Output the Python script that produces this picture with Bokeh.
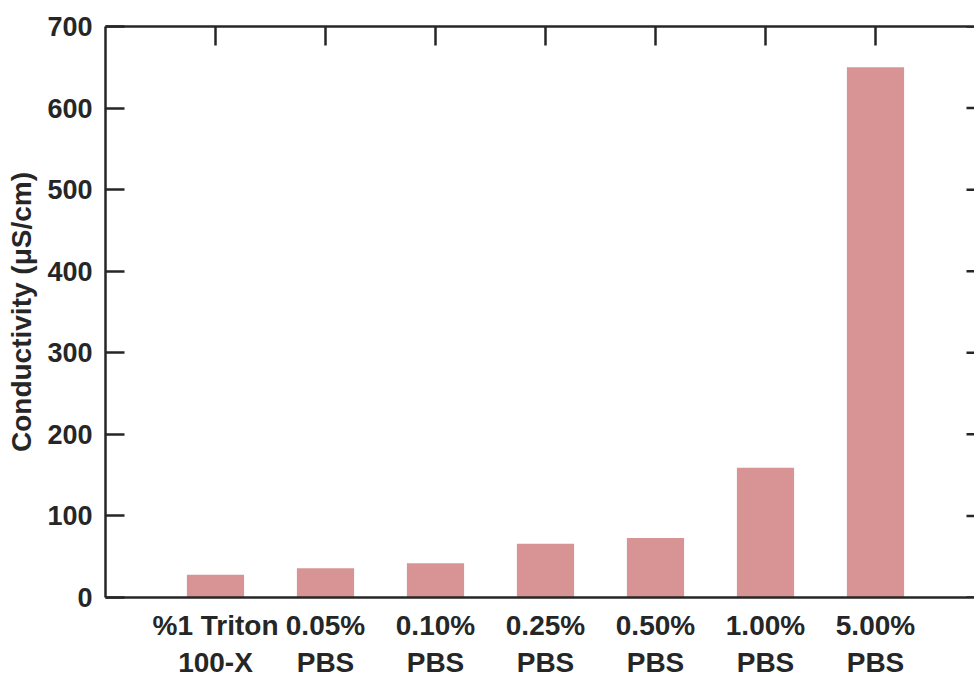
import numpy as np
from bokeh.plotting import figure
from bokeh.models import Range1d, LinearAxis, FixedTicker
from bokeh.embed import file_html
from bokeh.resources import INLINE

# ---- data ----
categories = ["%1 Triton\n100-X", "0.05%\nPBS", "0.10%\nPBS", "0.25%\nPBS",
              "0.50%\nPBS", "1.00%\nPBS", "5.00%\nPBS"]
conductivity = [28, 36, 42, 66, 73, 159, 650]
y_ticks = [0, 100, 200, 300, 400, 500, 600, 700]
y_label = "Conductivity (μS/cm)"
x_limit = 8          # original right axis limit (cropped off in the picture)

positions = list(range(1, len(categories) + 1))

AX = "#262626"
FONT = "Liberation Sans"
LW = 2.5

p = figure(width=974, height=680, output_backend="svg", toolbar_location=None,
           tools="", x_range=Range1d(0, 7.9), y_range=Range1d(y_ticks[0], y_ticks[-1]),
           min_border_left=105, min_border_right=0, min_border_top=26,
           min_border_bottom=60)
p.outline_line_color = None
p.xgrid.visible = False
p.ygrid.visible = False
p.background_fill_color = "white"
p.border_fill_color = "white"

p.vbar(x=positions, top=conductivity, width=0.52,
       fill_color="#D89494", line_color=None)

# top inward ticks (at each category) and right inward ticks
p.scatter(x=positions, y=[y_ticks[-1]] * len(positions), marker="dash",
          angle=np.pi / 2, size=38, line_color=AX, line_width=LW)
p.scatter(x=[x_limit] * len(y_ticks), y=y_ticks, marker="dash",
          size=38, line_color=AX, line_width=LW)

# bottom axis
xa = p.xaxis[0]
xa.ticker = FixedTicker(ticks=positions)
xa.major_label_overrides = {pos: lab for pos, lab in zip(positions, categories)}
xa.major_tick_in = 0
xa.major_tick_out = 0
xa.minor_tick_line_color = None
xa.axis_line_color = AX
xa.axis_line_width = LW
xa.major_label_text_font = FONT
xa.major_label_text_font_style = "bold"
xa.major_label_text_font_size = "28px"
xa.major_label_text_color = AX
xa.major_label_standoff = 12

# left axis
ya = p.yaxis[0]
ya.ticker = FixedTicker(ticks=y_ticks)
ya.major_tick_in = 19
ya.major_tick_out = 0
ya.major_tick_line_width = LW
ya.major_tick_line_color = AX
ya.minor_tick_line_color = None
ya.axis_line_color = AX
ya.axis_line_width = LW
ya.major_label_text_font = FONT
ya.major_label_text_font_style = "bold"
ya.major_label_text_font_size = "27px"
ya.major_label_text_color = AX
ya.major_label_standoff = 13
ya.axis_label = y_label
ya.axis_label_text_font = FONT
ya.axis_label_text_font_style = "bold"
ya.axis_label_text_font_size = "28px"
ya.axis_label_text_color = AX
ya.axis_label_standoff = 7

# top spine (line only)
top = LinearAxis(ticker=FixedTicker(ticks=[]), major_tick_in=0,
                 major_tick_out=0, minor_tick_line_color=None,
                 axis_line_color=AX, axis_line_width=LW, major_label_standoff=0)
p.add_layout(top, "above")

open("out.html", "w").write(file_html(p, INLINE))
